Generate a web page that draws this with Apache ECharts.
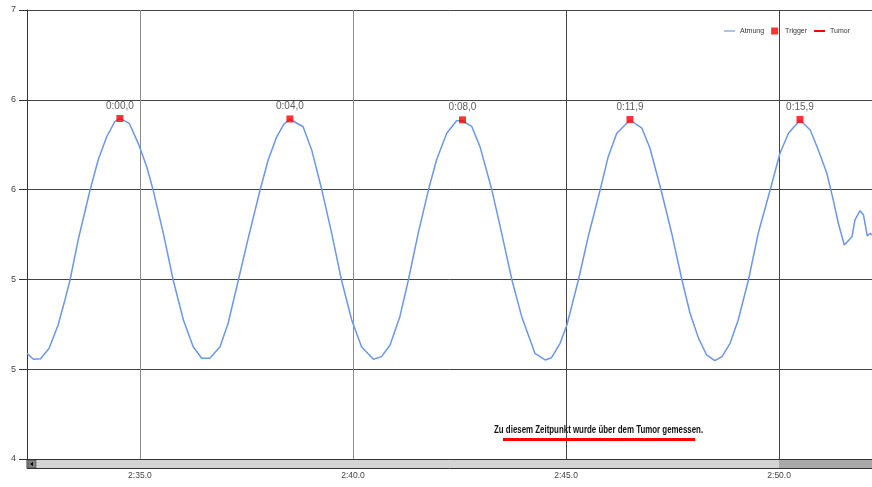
<!DOCTYPE html>
<html><head><meta charset="utf-8">
<script src="https://cdn.jsdelivr.net/npm/echarts@6/dist/echarts.min.js"></script>
<style>html,body{margin:0;padding:0;background:#fff}#c{width:872px;height:487px}</style>
</head><body><div id="c"></div>
<script>
// Atmung (breathing) curve: time in seconds (2:32.35 .. 2:52.18) and amplitude
const atmungTime = [152.35,152.50,152.67,152.87,153.08,153.24,153.36,153.55,153.83,154.02,154.22,154.41,154.53,154.75,154.96,155.16,155.31,155.55,155.78,156.02,156.25,156.45,156.64,156.88,157.07,157.31,157.56,157.82,158.01,158.21,158.38,158.52,158.83,159.03,159.27,159.50,159.73,159.97,160.20,160.48,160.67,160.87,161.10,161.30,161.53,161.77,161.96,162.20,162.43,162.57,162.79,162.98,163.26,163.49,163.73,163.96,164.27,164.51,164.66,164.86,165.02,165.29,165.52,165.80,165.99,166.19,166.50,166.78,166.97,167.21,167.48,167.72,167.91,168.11,168.30,168.49,168.66,168.85,169.04,169.28,169.51,169.79,170.02,170.22,170.49,170.73,170.92,171.12,171.27,171.39,171.53,171.71,171.78,171.90,171.98,172.07,172.14,172.18];
const atmungValue = [4.706,4.666,4.670,4.740,4.895,5.062,5.196,5.463,5.797,5.998,6.153,6.254,6.276,6.243,6.109,5.953,5.797,5.508,5.196,4.929,4.750,4.673,4.673,4.750,4.907,5.196,5.497,5.797,5.998,6.153,6.238,6.270,6.220,6.065,5.797,5.508,5.196,4.929,4.750,4.666,4.684,4.762,4.951,5.196,5.508,5.797,5.998,6.176,6.260,6.260,6.220,6.087,5.797,5.508,5.196,4.951,4.706,4.662,4.677,4.773,4.895,5.196,5.485,5.797,6.020,6.176,6.265,6.210,6.076,5.819,5.508,5.196,4.974,4.806,4.695,4.657,4.684,4.773,4.929,5.196,5.508,5.797,6.043,6.176,6.265,6.198,6.065,5.909,5.731,5.575,5.430,5.485,5.597,5.659,5.630,5.490,5.508,5.497];
// Trigger points
const triggerTime = [154.53,158.52,162.57,166.50,170.49];
const triggerValue = [6.275,6.272,6.266,6.268,6.268];
const triggerLabels = ['0:00,0','0:04,0','0:08,0','0:11,9','0:15,9'];
// Tumor marker
const tumorTime = [163.52,168.03];
const tumorValue = [4.13,4.13];
const tumorText = 'Zu diesem Zeitpunkt wurde über dem Tumor gemessen.';
// Axis ticks
const xTickValues = [155,160,165,170];
const yTickValues = [4,4.6,5.2,5.8,6.4,7];

const FONT = '"Liberation Sans",Arial,sans-serif';
const fmtTime = v => { const m = Math.floor(v/60); const s = v - m*60; return m + ':' + (s<10?'0':'') + s.toFixed(1); };

const chart = echarts.init(document.getElementById('c'), null, {renderer:'canvas'});
const atmungData = atmungTime.map((t,i)=>[t, atmungValue[i]]);
const triggerData = triggerTime.map((t,i)=>[t, triggerValue[i]]);
const tumorData = tumorTime.map((t,i)=>[t, tumorValue[i]]);

const scrollbar = [
  {type:'rect', shape:{x:27, y:459.5, width:845, height:9}, style:{fill:'#d4d4d4', stroke:'#333', lineWidth:1}, z:10},
  {type:'rect', shape:{x:779, y:460, width:93, height:8}, style:{fill:'#a9a9a9'}, z:11},
  {type:'rect', shape:{x:28, y:460, width:8, height:8}, style:{fill:'#808080', stroke:'#333', lineWidth:0.5}, z:11},
  {type:'polygon', shape:{points:[[30,464],[33,462],[33,466]]}, style:{fill:'#000'}, z:12}
];

chart.setOption({
  animation:false,
  backgroundColor:'#ffffff',
  grid:{left:27, top:10, right:0, bottom:28, containLabel:false},
  legend:{
    right:22, top:27.5, padding:0, itemWidth:11, itemHeight:7, itemGap:7,
    textStyle:{fontSize:7, color:'#333', fontFamily:FONT},
    data:[
      {name:'Atmung', icon:'path://M0,0H14V1.5H0Z'},
      {name:'Trigger', icon:'path://M0,0H10V10H0Z'},
      {name:'Tumor', icon:'path://M0,0H14V2.5H0Z'}
    ]
  },
  xAxis:{
    type:'value', min:152.35, max:172.18,
    axisLine:{show:true, lineStyle:{color:'#333', width:1}},
    axisTick:{show:false, customValues:xTickValues},
    axisLabel:{customValues:xTickValues, formatter:fmtTime, margin:12, fontSize:8.5, color:'#444', fontFamily:FONT},
    splitLine:{show:true, lineStyle:{color:['#8c8c8c','#8c8c8c','#444','#444'], width:1}}
  },
  yAxis:{
    type:'value', min:4, max:7,
    axisLine:{show:true, lineStyle:{color:'#333', width:1}},
    axisTick:{show:true, length:8, customValues:yTickValues, lineStyle:{color:'#333'}},
    axisLabel:{customValues:yTickValues, formatter:v=>String(Math.round(v)), margin:11, fontSize:9, color:'#444', fontFamily:FONT},
    splitLine:{show:true, lineStyle:{color:'#444', width:1}}
  },
  series:[
    {name:'Atmung', type:'line', data:atmungData, showSymbol:false, symbol:'none', smooth:false,
     lineStyle:{color:'#6b97e8', width:1.5}, itemStyle:{color:'#6b97e8'}, z:3},
    {name:'Trigger', type:'scatter', data:triggerData, symbol:'rect', symbolSize:7,
     itemStyle:{color:'#ff0000'}, z:4,
     label:{show:true, position:'top', distance:4, fontSize:10, color:'#333', fontFamily:FONT,
       formatter:p=>triggerLabels[p.dataIndex]}},
    {name:'Tumor', type:'line', data:tumorData, showSymbol:false, symbol:'none',
     lineStyle:{color:'#ff0000', width:3}, itemStyle:{color:'#ff0000'}, z:4}
  ],
  graphic:scrollbar
});

// Annotation text placed from the Tumor series' data, condensed like the original
const p0 = chart.convertToPixel({seriesIndex:2}, tumorData[0]);
const p1 = chart.convertToPixel({seriesIndex:2}, tumorData[1]);
const annFont = 'bold 10.5px "Liberation Sans", Arial, sans-serif';
const cv = document.createElement('canvas').getContext('2d');
cv.font = annFont;
const measured = cv.measureText(tumorText).width;
const targetW = (p1[0]-p0[0]) * 1.088;
chart.setOption({
  graphic: scrollbar.concat([{
    type:'text', x:(p0[0]+p1[0])/2 - 0.5, y:p0[1]-3.5, scaleX: targetW/measured, z:20,
    style:{text:tumorText, font:annFont, fill:'#111', textAlign:'center', textVerticalAlign:'bottom'}
  }])
});
</script></body></html>
